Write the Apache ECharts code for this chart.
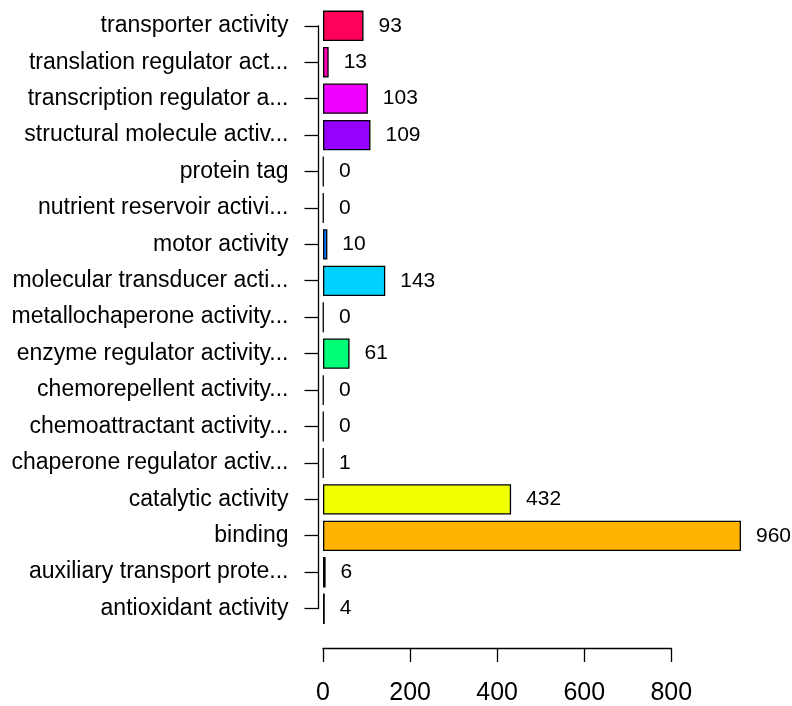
<!DOCTYPE html>
<html>
<head>
<meta charset="utf-8">
<script src="https://cdn.jsdelivr.net/npm/echarts@6/dist/echarts.min.js"></script>
<style>
html,body{margin:0;padding:0;background:#fff;}
#chart{width:792px;height:706px;}
</style>
</head>
<body>
<div id="chart"></div>
<script>
// Data (bottom to top, as in an R barplot)
const categories = [
  "antioxidant activity",
  "auxiliary transport prote...",
  "binding",
  "catalytic activity",
  "chaperone regulator activ...",
  "chemoattractant activity...",
  "chemorepellent activity...",
  "enzyme regulator activity...",
  "metallochaperone activity...",
  "molecular transducer acti...",
  "motor activity",
  "nutrient reservoir activi...",
  "protein tag",
  "structural molecule activ...",
  "transcription regulator a...",
  "translation regulator act...",
  "transporter activity"
];
const counts = [4, 6, 960, 432, 1, 0, 0, 61, 0, 143, 10, 0, 0, 109, 103, 13, 93];
const xTicks = [0, 200, 400, 600, 800];

// rainbow(17) palette
const barColors = [
  "#FF0000", "#FF5A00", "#FFB400", "#F0FF00", "#96FF00", "#3CFF00",
  "#00FF1E", "#00FF78", "#00FFD2", "#00D2FF", "#0078FF", "#001EFF",
  "#3C00FF", "#9600FF", "#F000FF", "#FF00B4", "#FF005A"
];

const font = "Liberation Sans, Arial, Helvetica, sans-serif";
const chart = echarts.init(document.getElementById('chart'), null, {renderer: 'canvas'});

const bandTop = 25.8, bandBottom = 608.7;
const step = (bandBottom - bandTop) / (categories.length - 1);
const pxPerUnit = 0.4354;

chart.setOption({
  animation: false,
  backgroundColor: '#ffffff',
  grid: [
    { left: 323, top: bandTop - step / 2, height: step * categories.length, width: 1000 * pxPerUnit },
    { left: 323, top: bandTop, height: bandBottom - bandTop, width: xTicks[xTicks.length - 1] * pxPerUnit }
  ],
  xAxis: [
    { gridIndex: 0, type: 'value', min: 0, max: 1000, show: false },
    {
      gridIndex: 1, type: 'value', min: xTicks[0], max: xTicks[xTicks.length - 1], interval: 200,
      position: 'bottom', offset: 648.3 - bandBottom,
      axisLine: { show: true, onZero: false, lineStyle: { color: '#000', width: 1.3 } },
      axisTick: { show: true, length: 14, lineStyle: { color: '#000', width: 1.3 } },
      axisLabel: { show: true, margin: 33, color: '#000', fontSize: 25, fontFamily: font },
      splitLine: { show: false }
    }
  ],
  yAxis: [
    { gridIndex: 0, type: 'category', data: categories, show: false },
    {
      gridIndex: 1, type: 'category', data: categories, boundaryGap: false,
      position: 'left', offset: 4.5,
      axisLine: { show: true, onZero: false, lineStyle: { color: '#000', width: 1.3 } },
      axisTick: { show: true, length: 14, alignWithLabel: true, lineStyle: { color: '#000', width: 1.3 } },
      axisLabel: { show: true, margin: 30, color: '#000', fontSize: 23, fontFamily: font, interval: 0 },
      splitLine: { show: false }
    }
  ],
  series: [
    {
      type: 'bar',
      xAxisIndex: 0,
      yAxisIndex: 0,
      barCategoryGap: '16.67%',
      barMinHeight: 0.5,
      data: counts.map((v, i) => ({ value: v, itemStyle: { color: barColors[i] } })),
      itemStyle: { borderColor: '#000', borderWidth: 1.3 },
      label: {
        show: true, position: 'right', distance: 15,
        color: '#000', fontSize: 21, fontFamily: font,
        formatter: p => String(p.value)
      }
    }
  ]
});
</script>
</body>
</html>
